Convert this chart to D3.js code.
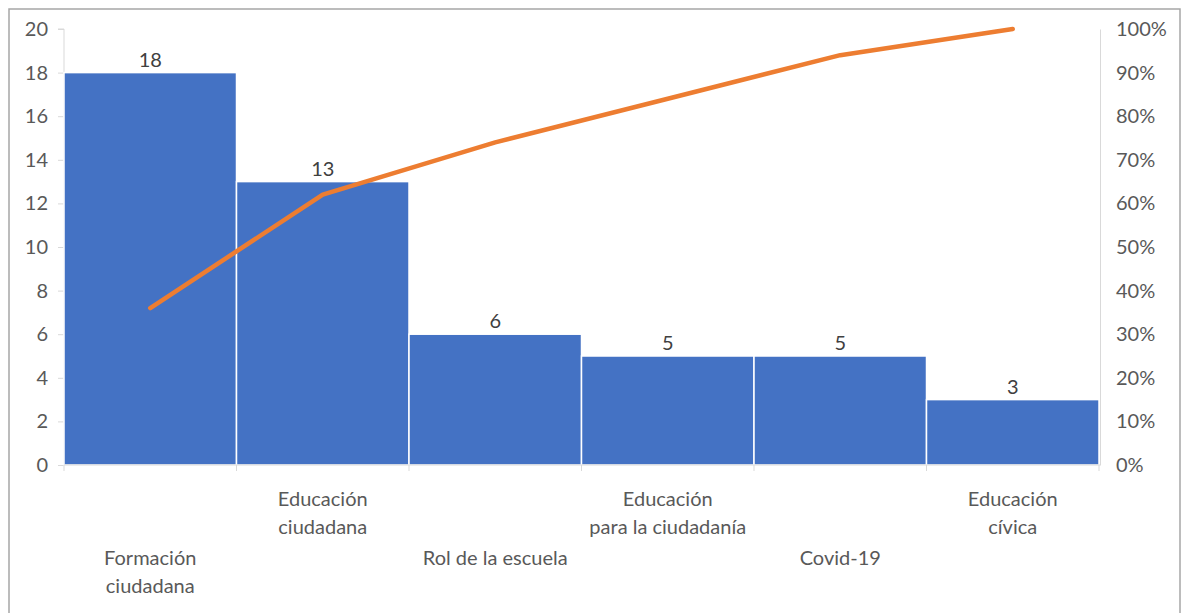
<!DOCTYPE html>
<html>
<head>
<meta charset="utf-8">
<script src="https://cdn.jsdelivr.net/npm/d3@7"></script>
<style>
  body { margin: 0; background: #fff; }
  text { font-family: Lato, "Open Sans", sans-serif; }
</style>
</head>
<body>
<div id="root"></div>
<script>
const categories = [
  ['Formación', 'ciudadana'],
  ['Educación', 'ciudadana'],
  ['Rol de la escuela'],
  ['Educación', 'para la ciudadanía'],
  ['Covid-19'],
  ['Educación', 'cívica'],
];
const counts = [18, 13, 6, 5, 5, 3];
const leftTicks = [0, 2, 4, 6, 8, 10, 12, 14, 16, 18, 20];
const rightTicks = [0, 0.1, 0.2, 0.3, 0.4, 0.5, 0.6, 0.7, 0.8, 0.9, 1];

const width = 1181;
const height = 613;
const fontSize = '20px';

// plot area
const padding = { top: 29, right: 83, bottom: 148, left: 64 };
const plotW = width - padding.left - padding.right;
const plotH = height - padding.top - padding.bottom;

const total = d3.sum(counts);
const cumulative = d3.cumsum(counts).map(d => d / total);
const idx = counts.map((d, i) => i);

const x = d3.scaleBand().domain(idx).range([0, plotW + 1]).padding(0);
const y = d3.scaleLinear().domain([0, 20]).range([plotH, 0]);
const y2 = d3.scaleLinear().domain([0, 1]).range([plotH, 0]);

const svg = d3.select('#root').append('svg')
  .attr('width', width)
  .attr('height', height);

// outer frame
svg.append('rect')
  .attr('x', 9).attr('y', 9)
  .attr('width', width - 10).attr('height', height)
  .attr('fill', 'none')
  .attr('stroke', '#a6a6a6')
  .attr('stroke-width', 1.5);

const g = svg.append('g')
  .attr('transform', `translate(${padding.left},${padding.top})`);

const axisColor = '#d9d9d9';
const labelColor = '#595959';

// left axis
const yAxis = g.append('g')
  .call(d3.axisLeft(y).tickValues(leftTicks).tickSize(6).tickPadding(10));
yAxis.select('.domain').attr('stroke', axisColor).attr('d', `M-6,0H0V${plotH}`);
yAxis.selectAll('.tick line').attr('stroke', axisColor);
yAxis.selectAll('.tick text').attr('fill', labelColor).style('font-size', fontSize);

// right axis
const yAxisR = g.append('g')
  .attr('transform', `translate(${plotW + 2},0)`)
  .call(d3.axisRight(y2).tickValues(rightTicks).tickSize(0).tickPadding(16)
    .tickFormat(d3.format('.0%')));
yAxisR.select('.domain').attr('stroke', axisColor);
yAxisR.selectAll('.tick text').attr('fill', labelColor).style('font-size', fontSize);

// bars
g.selectAll('.bar')
  .data(counts)
  .enter()
  .append('rect')
  .attr('class', 'bar')
  .attr('x', (d, i) => x(i))
  .attr('y', d => y(d))
  .attr('width', x.bandwidth())
  .attr('height', d => plotH - y(d))
  .attr('fill', '#4472c4')
  .attr('stroke', '#fff')
  .attr('stroke-width', 1.5);

// x axis baseline + ticks at band edges
g.append('line')
  .attr('x1', 0).attr('x2', plotW + 2)
  .attr('y1', plotH).attr('y2', plotH)
  .attr('stroke', axisColor);
g.selectAll('.xtick')
  .data(idx.concat([counts.length]))
  .enter()
  .append('line')
  .attr('class', 'xtick')
  .attr('x1', d => d < counts.length ? x(d) : plotW + 1)
  .attr('x2', d => d < counts.length ? x(d) : plotW + 1)
  .attr('y1', plotH).attr('y2', plotH + 6)
  .attr('stroke', axisColor);

// value labels
g.selectAll('.value')
  .data(counts)
  .enter()
  .append('text')
  .attr('class', 'value')
  .attr('x', (d, i) => x(i) + x.bandwidth() / 2)
  .attr('y', d => y(d) - 6)
  .attr('text-anchor', 'middle')
  .attr('fill', '#404040')
  .style('font-size', fontSize)
  .text(d => d);

// category labels (staggered like the original)
const catLabels = g.selectAll('.cat')
  .data(categories)
  .enter()
  .append('text')
  .attr('class', 'cat')
  .attr('text-anchor', 'middle')
  .attr('fill', labelColor)
  .style('font-size', fontSize)
  .attr('transform', (d, i) =>
    `translate(${x(i) + x.bandwidth() / 2},${i % 2 === 0 ? plotH + 100 : plotH + 41})`);
catLabels.selectAll('tspan')
  .data(d => d)
  .enter()
  .append('tspan')
  .attr('x', 0)
  .attr('dy', (d, i) => i === 0 ? 0 : 28)
  .text(d => d);

// cumulative line
const line = d3.line()
  .x((d, i) => x(i) + x.bandwidth() / 2)
  .y(d => y2(d));
g.append('path')
  .datum(cumulative)
  .attr('d', line)
  .attr('fill', 'none')
  .attr('stroke', '#ed7d31')
  .attr('stroke-width', 4.5)
  .attr('stroke-linecap', 'round')
  .attr('stroke-linejoin', 'round');
</script>
</body>
</html>
